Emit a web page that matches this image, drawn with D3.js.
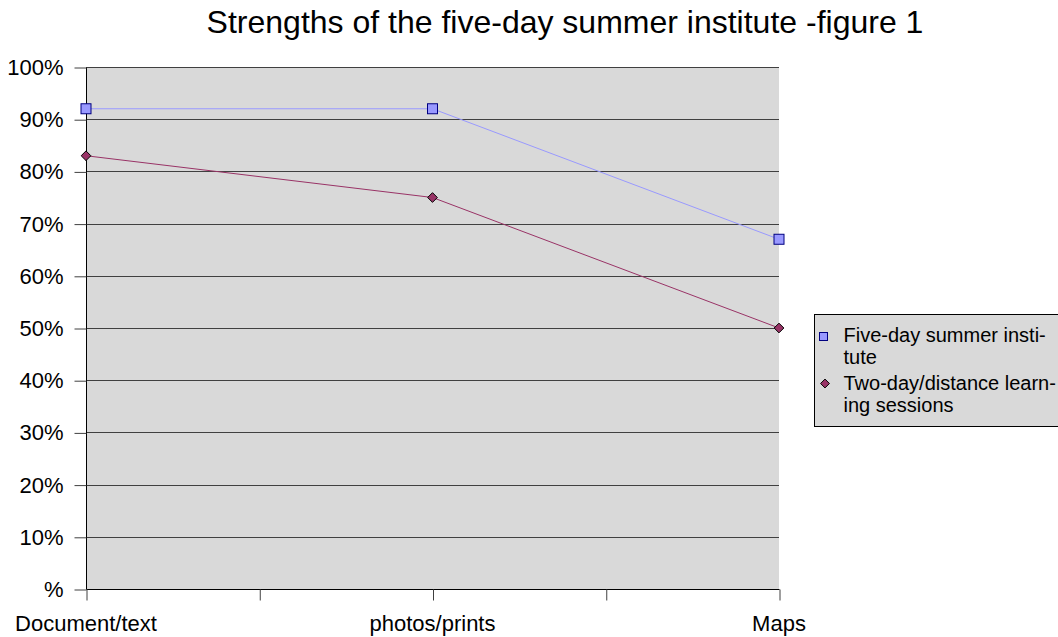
<!DOCTYPE html>
<html>
<head>
<meta charset="utf-8">
<script src="https://cdn.jsdelivr.net/npm/d3@7"></script>
<style>
  body { margin: 0; background: #fff; }
  svg { display: block; font-family: "Liberation Sans", Arial, sans-serif; }
</style>
</head>
<body>
<svg id="chart" width="1058" height="637"></svg>
<script>
// chart data
var categories = ['Document/text', 'photos/prints', 'Maps'];
var fiveDay = [0.92, 0.92, 0.67];
var twoDay = [0.83, 0.75, 0.50];
var yTicks = [0, 0.1, 0.2, 0.3, 0.4, 0.5, 0.6, 0.7, 0.8, 0.9, 1.0];
var seriesNames = [['Five-day summer insti-', 'tute'], ['Two-day/distance learn-', 'ing sessions']];

var svg = d3.select('#chart');
var plot = { left: 86, right: 779, top: 67, bottom: 589 };

var x = d3.scalePoint().domain(categories).range([plot.left, plot.right]);
var xIdx = d3.scaleLinear().domain([0, categories.length - 1]).range([plot.left, plot.right]);
var y = d3.scaleLinear().domain([0, 1]).range([plot.bottom, plot.top]);

// plot background
svg.append('rect')
    .attr('x', plot.left).attr('y', plot.top)
    .attr('width', plot.right - plot.left).attr('height', plot.bottom - plot.top)
    .attr('fill', '#d9d9d9');

// gridlines
svg.append('g')
    .selectAll('line')
    .data(yTicks.filter(d => d > 0))
    .join('line')
    .attr('x1', plot.left).attr('x2', plot.right)
    .attr('y1', d => Math.round(y(d)) + 0.5).attr('y2', d => Math.round(y(d)) + 0.5)
    .attr('stroke', '#404040').attr('stroke-width', 1);

// y axis
var yAxis = d3.axisLeft(y)
    .tickValues(yTicks)
    .tickSize(12)
    .tickPadding(11)
    .tickFormat(d => d === 0 ? '%' : Math.round(d * 100) + '%');
svg.append('g')
    .attr('transform', `translate(${plot.left + 0.5},0.5)`)
    .call(yAxis)
    .call(g => g.select('.domain').attr('stroke', '#000').attr('d', `M0,${plot.top}V${plot.bottom}`))
    .call(g => g.selectAll('.tick line').attr('stroke', '#404040'))
    .call(g => g.selectAll('.tick text').attr('fill', '#000').style('font-size', '22px').style('font-family', '"Liberation Sans", Arial, sans-serif'));

// x axis (ticks at category edges and midpoints)
var xAxis = d3.axisBottom(xIdx)
    .tickValues([0, 0.5, 1, 1.5, 2])
    .tickSize(11)
    .tickFormat('');
svg.append('g')
    .attr('transform', `translate(0.5,${plot.bottom + 0.5})`)
    .call(xAxis)
    .call(g => g.select('.domain').attr('stroke', '#000').attr('d', `M${plot.left},0H${plot.right}`))
    .call(g => g.selectAll('.tick line').attr('stroke', '#404040'));

svg.append('g')
    .selectAll('text')
    .data(categories)
    .join('text')
    .attr('x', d => x(d)).attr('y', 631)
    .attr('text-anchor', 'middle')
    .style('font-size', '22px')
    .text(d => d);

// lines
var line = d3.line().x((d, i) => x(categories[i])).y(d => y(d));

svg.append('path').datum(fiveDay)
    .attr('d', line).attr('fill', 'none').attr('stroke', '#9999ff').attr('stroke-width', 1);
svg.append('path').datum(twoDay)
    .attr('d', line).attr('fill', 'none').attr('stroke', '#993366').attr('stroke-width', 1);

// markers
svg.append('g').selectAll('rect')
    .data(fiveDay)
    .join('rect')
    .attr('x', (d, i) => x(categories[i]) - 5).attr('y', d => y(d) - 5)
    .attr('width', 10).attr('height', 10)
    .attr('fill', '#9999ff').attr('stroke', '#000080').attr('stroke-width', 1);

var diamond = d3.symbol().type(d3.symbolDiamond2).size(60);
svg.append('g').selectAll('path')
    .data(twoDay)
    .join('path')
    .attr('transform', (d, i) => `translate(${x(categories[i])},${y(d)})`)
    .attr('d', diamond)
    .attr('fill', '#993366').attr('stroke', '#000').attr('stroke-width', 1);

// title
svg.append('text')
    .attr('x', 565).attr('y', 33)
    .attr('text-anchor', 'middle')
    .style('font-size', '32px')
    .text('Strengths of the five-day summer institute -figure 1');

// legend
var lg = svg.append('g').attr('transform', 'translate(814.5,314.5)');
lg.append('rect')
    .attr('width', 260).attr('height', 112)
    .attr('fill', '#d9d9d9').attr('stroke', '#000');

var rows = lg.selectAll('g.item')
    .data(seriesNames)
    .join('g')
    .attr('transform', (d, i) => `translate(0,${i * 48})`);

rows.append('text')
    .attr('x', 29).attr('y', 27)
    .style('font-size', '20px')
    .selectAll('tspan')
    .data(d => d)
    .join('tspan')
    .attr('x', 29)
    .attr('dy', (d, i) => i === 0 ? 0 : 22.5)
    .text(d => d);

lg.append('rect')
    .attr('x', 5).attr('y', 18).attr('width', 8).attr('height', 8)
    .attr('fill', '#9999ff').attr('stroke', '#000080');
lg.append('path')
    .attr('transform', 'translate(10.5,69)')
    .attr('d', d3.symbol().type(d3.symbolDiamond2).size(50))
    .attr('fill', '#993366').attr('stroke', '#000');
</script>
</body>
</html>
